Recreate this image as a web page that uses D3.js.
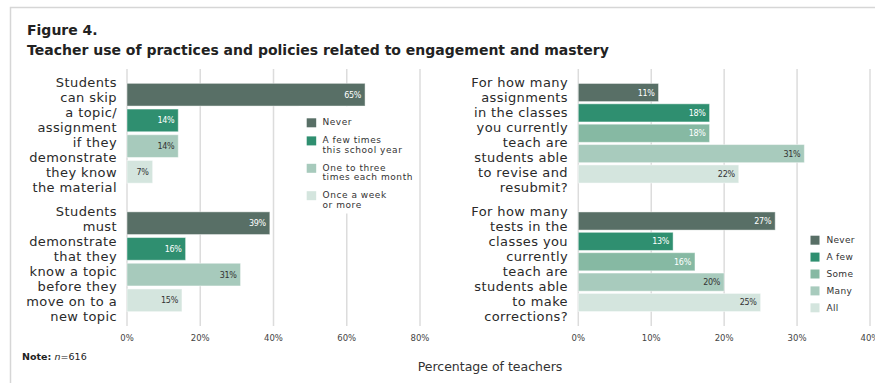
<!DOCTYPE html>
<html>
<head>
<meta charset="utf-8">
<script src="https://cdn.jsdelivr.net/npm/d3@7"></script>
<style>
  body { margin: 0; background: #fff; }
  svg { display: block; }
  text { font-family: "DejaVu Sans", sans-serif; }
</style>
</head>
<body>
<svg id="chart" width="875" height="383"></svg>
<script>
// ---- data ----
const leftQuestions = [
  ["Students", "can skip", "a topic/", "assignment", "if they", "demonstrate", "they know", "the material"],
  ["Students", "must", "demonstrate", "that they", "know a topic", "before they", "move on to a", "new topic"]
];
const leftCategories = ["Never", "A few times this school year", "One to three times each month", "Once a week or more"];
const leftLegendLines = [["Never"], ["A few times", "this school year"], ["One to three", "times each month"], ["Once a week", "or more"]];
const leftValues = [
  [65, 14, 14, 7],
  [39, 16, 31, 15]
];
const leftTicks = [0, 20, 40, 60, 80];

const rightQuestions = [
  ["For how many", "assignments", "in the classes", "you currently", "teach are", "students able", "to revise and", "resubmit?"],
  ["For how many", "tests in the", "classes you", "currently", "teach are", "students able", "to make", "corrections?"]
];
const rightCategories = ["Never", "A few", "Some", "Many", "All"];
const rightValues = [
  [11, 18, 18, 31, 22],
  [27, 13, 16, 20, 25]
];
const rightTicks = [0, 10, 20, 30, 40];

const leftColors = ["#586f66", "#2f8f70", "#a7cabc", "#d4e5de"];
const rightColors = ["#586f66", "#2f8f70", "#86b9a3", "#a8cbbd", "#d4e5de"];
const lightLabel = ["Never", "A few", "Some", "A few times this school year"];

// ---- drawing ----
const svg = d3.select("#chart");

// frame
svg.append("path")
  .attr("d", "M10.5,383 V7.5 H875")
  .attr("fill", "none").attr("stroke", "#d6d6d6").attr("stroke-width", 1.5);

// titles
svg.append("text").attr("x", 27).attr("y", 35)
  .attr("font-size", 14).attr("font-weight", "bold").attr("fill", "#222")
  .text("Figure 4.");
svg.append("text").attr("x", 27).attr("y", 55)
  .attr("font-size", 14).attr("font-weight", "bold").attr("fill", "#222")
  .text("Teacher use of practices and policies related to engagement and mastery");

const yOuter = d3.scaleBand().domain([0, 1]).range([69, 326]);

function panel(opts) {
  const { questions, categories, values, ticks, colors, xRange, xMax, labelRight, pIn, pOut } = opts;
  const g = svg.append("g");
  const x = d3.scaleLinear().domain([0, xMax]).range(xRange);
  const yInner = d3.scaleBand().domain(categories).range([0, yOuter.bandwidth()])
    .paddingInner(pIn).paddingOuter(pOut);

  // gridlines
  g.append("g").selectAll("line").data(ticks).join("line")
    .attr("x1", d => x(d)).attr("x2", d => x(d))
    .attr("y1", 69).attr("y2", 326)
    .attr("stroke", "#dcdcdc").attr("stroke-width", 1.5);

  // tick labels
  g.append("g").selectAll("text").data(ticks).join("text")
    .attr("x", d => x(d)).attr("y", 340.5)
    .attr("text-anchor", "middle").attr("font-size", 8.5).attr("fill", "#444")
    .text(d => d + "%");

  const groups = g.append("g").attr("class", "grid-layer");
  const layer = g.append("g");

  values.forEach((row, qi) => {
    const top = yOuter(qi);
    const rows = row.map((v, i) => ({ v, cat: categories[i], color: colors[i] }));
    const bg = layer.append("g").attr("transform", `translate(0,${top})`);
    bg.selectAll("rect").data(rows).join("rect")
      .attr("x", x(0)).attr("y", d => yInner(d.cat))
      .attr("width", d => x(d.v) - x(0)).attr("height", yInner.bandwidth())
      .attr("fill", d => d.color)
      .attr("stroke", "#ffffff").attr("stroke-opacity", 0.45).attr("stroke-width", 1);
    bg.selectAll("text").data(rows).join("text")
      .attr("x", d => x(d.v) - 4)
      .attr("y", d => yInner(d.cat) + yInner.bandwidth() / 2 + 3)
      .attr("text-anchor", "end").attr("font-size", 8)
      .attr("letter-spacing", -0.3)
      .attr("fill", d => lightLabel.includes(d.cat) ? "#ffffff" : "#333")
      .text(d => d.v + "%");

    // question label
    const lines = questions[qi];
    const mid = top + yOuter.bandwidth() / 2;
    const lh = 15;
    const t = g.append("text").attr("text-anchor", "end")
      .attr("font-size", 13).attr("letter-spacing", 0.4).attr("fill", "#2a2a2a");
    lines.forEach((ln, li) => {
      t.append("tspan").attr("x", labelRight)
        .attr("y", mid - (lines.length - 1) / 2 * lh + 6.5 + li * lh)
        .text(ln);
    });
  });
  return { g, x };
}

const left = panel({
  questions: leftQuestions, categories: leftCategories, values: leftValues,
  ticks: leftTicks, colors: leftColors, xRange: [127, 420], xMax: 80,
  labelRight: 117, pIn: 0.117, pOut: 0.558
});
const right = panel({
  questions: rightQuestions, categories: rightCategories, values: rightValues,
  ticks: rightTicks, colors: rightColors, xRange: [578.3, 870], xMax: 40,
  labelRight: 568, pIn: 0.11, pOut: 0.71
});

// left legend (sits over the gridlines on a white panel)
const legL = svg.append("g");
const legLBg = legL.append("rect").attr("fill", "#fff");
let ly = 118.3;
leftLegendLines.forEach((lines, i) => {
  legL.append("rect").attr("x", 306.7).attr("y", ly).attr("width", 9.5).attr("height", 9)
    .attr("fill", leftColors[i]);
  const t = legL.append("text").attr("font-size", 9).attr("letter-spacing", 0.55).attr("fill", "#333");
  lines.forEach((ln, li) => {
    t.append("tspan").attr("x", 322.5).attr("y", ly + 7 + li * 9.3).text(ln);
  });
  ly += lines.length * 9.3 + 8.8;
});
const bb = legL.node().getBBox();
legLBg.attr("x", bb.x - 8).attr("y", bb.y - 11).attr("width", bb.width + 3).attr("height", bb.height + 15);

// right legend
const legR = svg.append("g");
rightCategories.forEach((c, i) => {
  const yy = 235.7 + i * 16.9;
  legR.append("rect").attr("x", 810.5).attr("y", yy).attr("width", 9).attr("height", 9)
    .attr("fill", rightColors[i]);
  legR.append("text").attr("x", 826.5).attr("y", yy + 7.5)
    .attr("font-size", 9).attr("letter-spacing", 0.3).attr("fill", "#333").text(c);
});

// axis title and note
svg.append("text").attr("x", 490).attr("y", 371)
  .attr("text-anchor", "middle").attr("font-size", 12.5).attr("fill", "#333")
  .text("Percentage of teachers");

const note = svg.append("text").attr("x", 22).attr("y", 360).attr("font-size", 9.5).attr("fill", "#222");
note.append("tspan").attr("font-weight", "bold").text("Note: ");
note.append("tspan").attr("font-style", "italic").text("n");
note.append("tspan").text("=616");
</script>
</body>
</html>
